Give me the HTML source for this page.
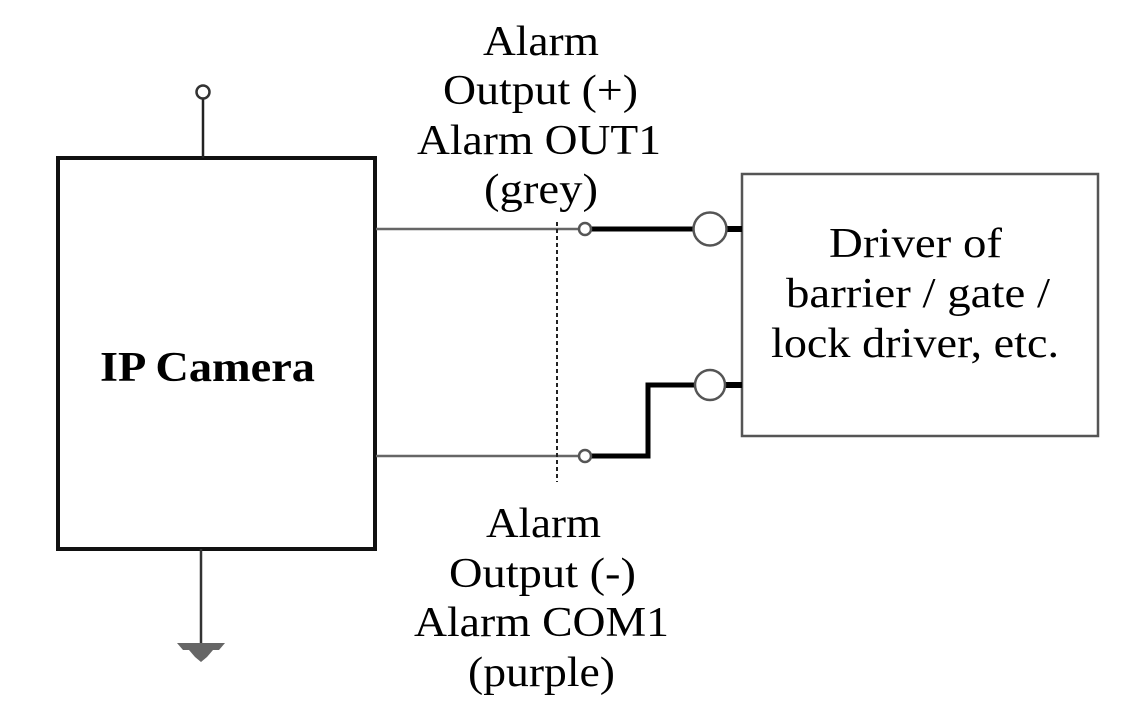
<!DOCTYPE html>
<html><head><meta charset="utf-8"><style>
html,body{margin:0;padding:0;background:#fff;}
svg{display:block;}
text{font-family:"Liberation Serif",serif;font-size:42px;fill:#000;}
</style></head><body>
<svg width="1128" height="716" viewBox="0 0 1128 716" xmlns="http://www.w3.org/2000/svg">
<rect x="58" y="158" width="317" height="391" fill="none" stroke="#111" stroke-width="4"/>
<line x1="203" y1="99" x2="203" y2="158" stroke="#222" stroke-width="2.5"/>
<circle cx="203" cy="92" r="6.5" fill="#fff" stroke="#333" stroke-width="2.5"/>
<line x1="201" y1="549" x2="201" y2="644" stroke="#333" stroke-width="2.5"/>
<polygon points="177,643 225,643 219,650 213,650 207,657 201,662 195,657 189,650 183,650" fill="#666"/>
<text x="100" y="381" textLength="215" lengthAdjust="spacingAndGlyphs" font-weight="bold">IP Camera</text>
<rect x="742" y="174" width="356" height="262" fill="none" stroke="#555" stroke-width="2.5"/>
<text x="829" y="257" textLength="173" lengthAdjust="spacingAndGlyphs">Driver of</text>
<text x="786" y="307" textLength="264" lengthAdjust="spacingAndGlyphs">barrier / gate /</text>
<text x="771" y="357" textLength="288" lengthAdjust="spacingAndGlyphs">lock driver, etc.</text>
<line x1="376" y1="229" x2="579" y2="229" stroke="#666" stroke-width="2.5"/>
<line x1="376" y1="456" x2="579" y2="456" stroke="#666" stroke-width="2.5"/>
<line x1="557" y1="222" x2="557" y2="482" stroke="#222" stroke-width="2" stroke-dasharray="4,3"/>
<line x1="591" y1="229" x2="693" y2="229" stroke="#000" stroke-width="5"/>
<line x1="727" y1="229" x2="742" y2="229" stroke="#000" stroke-width="6"/>
<polyline points="591,456 648,456 648,385 696,385" fill="none" stroke="#000" stroke-width="5"/>
<line x1="724" y1="385" x2="742" y2="385" stroke="#000" stroke-width="6"/>
<circle cx="585" cy="229" r="6" fill="#fff" stroke="#555" stroke-width="2.5"/>
<circle cx="585" cy="456" r="6" fill="#fff" stroke="#555" stroke-width="2.5"/>
<circle cx="710" cy="229" r="16.5" fill="#fff" stroke="#555" stroke-width="2.5"/>
<circle cx="710" cy="385" r="15" fill="#fff" stroke="#555" stroke-width="2.5"/>
<text x="483" y="55" textLength="116" lengthAdjust="spacingAndGlyphs">Alarm</text>
<text x="443" y="104" textLength="195" lengthAdjust="spacingAndGlyphs">Output (+)</text>
<text x="417" y="154" textLength="244" lengthAdjust="spacingAndGlyphs">Alarm OUT1</text>
<text x="484" y="203" textLength="114" lengthAdjust="spacingAndGlyphs">(grey)</text>
<text x="486" y="537" textLength="115" lengthAdjust="spacingAndGlyphs">Alarm</text>
<text x="449" y="587" textLength="187" lengthAdjust="spacingAndGlyphs">Output (-)</text>
<text x="414" y="636" textLength="255" lengthAdjust="spacingAndGlyphs">Alarm COM1</text>
<text x="468" y="686" textLength="147" lengthAdjust="spacingAndGlyphs">(purple)</text>
</svg>
</body></html>
